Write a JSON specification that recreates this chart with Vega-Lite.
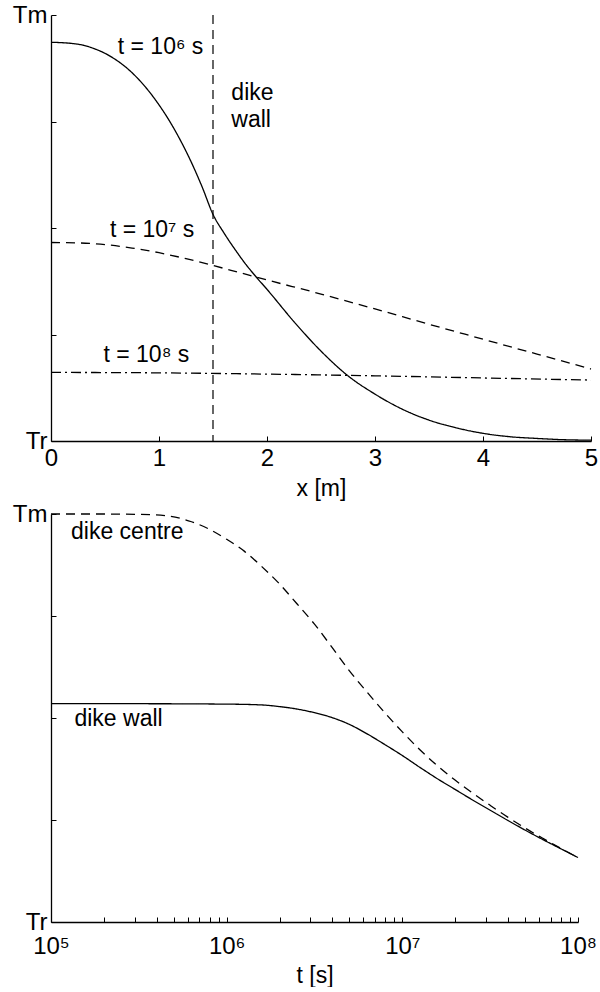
{
  "$schema": "https://vega.github.io/schema/vega-lite/v6.json",
  "background": "white",
  "padding": {"left": 12, "top": 3, "right": 0, "bottom": 0},
  "spacing": 2,
  "config": {
    "font": "Liberation Sans",
    "view": {"stroke": null},
    "axis": {
      "grid": false,
      "domainColor": "black",
      "domainWidth": 1.3,
      "tickColor": "black",
      "tickWidth": 1,
      "tickSize": -5,
      "labelFont": "Liberation Sans",
      "labelFontSize": 24,
      "labelColor": "black",
      "labelFlush": false,
      "labelOverlap": false,
      "titleFont": "Liberation Sans",
      "titleFontSize": 23,
      "titleFontWeight": "normal",
      "titleColor": "black"
    },
    "text": {"font": "Liberation Sans", "fontSize": 23, "color": "black"}
  },
  "datasets": {
    "profiles": [
      {"x": 0, "T": 0.936, "series": "1e6"},
      {"x": 0.1, "T": 0.935, "series": "1e6"},
      {"x": 0.2, "T": 0.933, "series": "1e6"},
      {"x": 0.3, "T": 0.929, "series": "1e6"},
      {"x": 0.4, "T": 0.921, "series": "1e6"},
      {"x": 0.5, "T": 0.91, "series": "1e6"},
      {"x": 0.6, "T": 0.895, "series": "1e6"},
      {"x": 0.7, "T": 0.876, "series": "1e6"},
      {"x": 0.8, "T": 0.852, "series": "1e6"},
      {"x": 0.9, "T": 0.823, "series": "1e6"},
      {"x": 1.0, "T": 0.789, "series": "1e6"},
      {"x": 1.1, "T": 0.75, "series": "1e6"},
      {"x": 1.2, "T": 0.705, "series": "1e6"},
      {"x": 1.3, "T": 0.654, "series": "1e6"},
      {"x": 1.4, "T": 0.596, "series": "1e6"},
      {"x": 1.5, "T": 0.532, "series": "1e6"},
      {"x": 1.6, "T": 0.489, "series": "1e6"},
      {"x": 1.7, "T": 0.451, "series": "1e6"},
      {"x": 1.8, "T": 0.416, "series": "1e6"},
      {"x": 1.9, "T": 0.385, "series": "1e6"},
      {"x": 2.0, "T": 0.356, "series": "1e6"},
      {"x": 2.25, "T": 0.28, "series": "1e6"},
      {"x": 2.5, "T": 0.211, "series": "1e6"},
      {"x": 2.75, "T": 0.153, "series": "1e6"},
      {"x": 3.0, "T": 0.11, "series": "1e6"},
      {"x": 3.25, "T": 0.075, "series": "1e6"},
      {"x": 3.5, "T": 0.049, "series": "1e6"},
      {"x": 3.75, "T": 0.031, "series": "1e6"},
      {"x": 4.0, "T": 0.018, "series": "1e6"},
      {"x": 4.25, "T": 0.01, "series": "1e6"},
      {"x": 4.5, "T": 0.006, "series": "1e6"},
      {"x": 4.75, "T": 0.003, "series": "1e6"},
      {"x": 5.0, "T": 0.002, "series": "1e6"},
      {"x": 0, "T": 0.466, "series": "1e7"},
      {"x": 0.25, "T": 0.465, "series": "1e7"},
      {"x": 0.5, "T": 0.461, "series": "1e7"},
      {"x": 0.75, "T": 0.453, "series": "1e7"},
      {"x": 1.0, "T": 0.442, "series": "1e7"},
      {"x": 1.25, "T": 0.428, "series": "1e7"},
      {"x": 1.5, "T": 0.412, "series": "1e7"},
      {"x": 1.75, "T": 0.395, "series": "1e7"},
      {"x": 2.0, "T": 0.378, "series": "1e7"},
      {"x": 2.5, "T": 0.345, "series": "1e7"},
      {"x": 3.0, "T": 0.31, "series": "1e7"},
      {"x": 3.5, "T": 0.274, "series": "1e7"},
      {"x": 4.0, "T": 0.239, "series": "1e7"},
      {"x": 4.5, "T": 0.204, "series": "1e7"},
      {"x": 5.0, "T": 0.169, "series": "1e7"},
      {"x": 0, "T": 0.161, "series": "1e8"},
      {"x": 1, "T": 0.16, "series": "1e8"},
      {"x": 2, "T": 0.157, "series": "1e8"},
      {"x": 3, "T": 0.153, "series": "1e8"},
      {"x": 4, "T": 0.148, "series": "1e8"},
      {"x": 5, "T": 0.143, "series": "1e8"}
    ],
    "history": [
      {"t": 100000, "T": 1.0, "series": "centre"},
      {"t": 177828, "T": 1.0, "series": "centre"},
      {"t": 316228, "T": 0.999, "series": "centre"},
      {"t": 446684, "T": 0.996, "series": "centre"},
      {"t": 630957, "T": 0.981, "series": "centre"},
      {"t": 794328, "T": 0.963, "series": "centre"},
      {"t": 1000000, "T": 0.938, "series": "centre"},
      {"t": 1258925, "T": 0.909, "series": "centre"},
      {"t": 1584893, "T": 0.871, "series": "centre"},
      {"t": 1995262, "T": 0.829, "series": "centre"},
      {"t": 2511886, "T": 0.78, "series": "centre"},
      {"t": 3162278, "T": 0.73, "series": "centre"},
      {"t": 3981072, "T": 0.673, "series": "centre"},
      {"t": 5011872, "T": 0.615, "series": "centre"},
      {"t": 6309573, "T": 0.563, "series": "centre"},
      {"t": 7943282, "T": 0.513, "series": "centre"},
      {"t": 10000000, "T": 0.466, "series": "centre"},
      {"t": 12589254, "T": 0.422, "series": "centre"},
      {"t": 15848932, "T": 0.383, "series": "centre"},
      {"t": 19952623, "T": 0.348, "series": "centre"},
      {"t": 25118864, "T": 0.316, "series": "centre"},
      {"t": 31622777, "T": 0.286, "series": "centre"},
      {"t": 39810717, "T": 0.257, "series": "centre"},
      {"t": 50118723, "T": 0.23, "series": "centre"},
      {"t": 63095734, "T": 0.205, "series": "centre"},
      {"t": 79432823, "T": 0.181, "series": "centre"},
      {"t": 100000000, "T": 0.158, "series": "centre"},
      {"t": 100000, "T": 0.535, "series": "wall"},
      {"t": 316228, "T": 0.535, "series": "wall"},
      {"t": 1000000, "T": 0.534, "series": "wall"},
      {"t": 1584893, "T": 0.532, "series": "wall"},
      {"t": 1995262, "T": 0.528, "series": "wall"},
      {"t": 2511886, "T": 0.522, "series": "wall"},
      {"t": 3162278, "T": 0.513, "series": "wall"},
      {"t": 3981072, "T": 0.501, "series": "wall"},
      {"t": 5011872, "T": 0.484, "series": "wall"},
      {"t": 6309573, "T": 0.461, "series": "wall"},
      {"t": 7943282, "T": 0.435, "series": "wall"},
      {"t": 10000000, "T": 0.408, "series": "wall"},
      {"t": 12589254, "T": 0.379, "series": "wall"},
      {"t": 15848932, "T": 0.351, "series": "wall"},
      {"t": 19952623, "T": 0.325, "series": "wall"},
      {"t": 25118864, "T": 0.299, "series": "wall"},
      {"t": 31622777, "T": 0.274, "series": "wall"},
      {"t": 39810717, "T": 0.249, "series": "wall"},
      {"t": 50118723, "T": 0.225, "series": "wall"},
      {"t": 63095734, "T": 0.202, "series": "wall"},
      {"t": 79432823, "T": 0.18, "series": "wall"},
      {"t": 100000000, "T": 0.158, "series": "wall"}
    ],
    "profileLabels": [
      {"x": 1.41, "T": 0.925, "text": "t = 10⁶ s", "side": "right"},
      {"x": 1.327, "T": 0.495, "text": "t = 10⁷ s", "side": "right"},
      {"x": 1.28, "T": 0.202, "text": "t = 10⁸ s", "side": "right"},
      {"x": 1.67, "T": 0.818, "text": "dike", "side": "left"},
      {"x": 1.67, "T": 0.753, "text": "wall", "side": "left"}
    ],
    "historyLabels": [
      {"t": 130000, "T": 0.956, "text": "dike centre"},
      {"t": 136000, "T": 0.497, "text": "dike wall"}
    ]
  },
  "vconcat": [
    {
      "width": 540,
      "height": 426,
      "layer": [
        {
          "data": {"values": [{"x": 1.5}]},
          "mark": {"type": "rule", "color": "black", "strokeWidth": 1.2, "strokeDash": [9, 6]},
          "encoding": {"x": {"field": "x", "type": "quantitative", "scale": {"domain": [0, 5], "nice": false}}}
        },
        {
          "data": {"name": "profiles"},
          "mark": {"type": "line", "color": "black", "strokeWidth": 1.3, "interpolate": "monotone"},
          "encoding": {
            "x": {
              "field": "x", "type": "quantitative",
              "scale": {"domain": [0, 5], "nice": false},
              "axis": {"values": [0, 1, 2, 3, 4, 5], "format": "d", "title": "x [m]", "labelPadding": 10, "titlePadding": 7}
            },
            "y": {
              "field": "T", "type": "quantitative",
              "scale": {"domain": [0, 1], "nice": false},
              "axis": {
                "values": [0, 0.25, 0.5, 0.75, 1],
                "labelExpr": "datum.value == 1 ? 'Tm' : datum.value == 0 ? 'Tr' : ''",
                "labelPadding": 9,
                "title": null
              }
            },
            "detail": {"field": "series", "type": "nominal"},
            "strokeDash": {
              "field": "series", "type": "nominal",
              "scale": {"domain": ["1e6", "1e7", "1e8"], "range": [[1, 0], [9, 6], [10, 4, 2, 4]]},
              "legend": null
            }
          }
        },
        {
          "data": {"name": "profileLabels"},
          "transform": [{"filter": "datum.side == 'right'"}],
          "mark": {"type": "text", "align": "right"},
          "encoding": {
            "x": {"field": "x", "type": "quantitative"},
            "y": {"field": "T", "type": "quantitative"},
            "text": {"field": "text"}
          }
        },
        {
          "data": {"name": "profileLabels"},
          "transform": [{"filter": "datum.side == 'left'"}],
          "mark": {"type": "text", "align": "left"},
          "encoding": {
            "x": {"field": "x", "type": "quantitative"},
            "y": {"field": "T", "type": "quantitative"},
            "text": {"field": "text"}
          }
        }
      ]
    },
    {
      "width": 527,
      "height": 408,
      "layer": [
        {
          "data": {"name": "history"},
          "mark": {"type": "line", "color": "black", "strokeWidth": 1.3, "interpolate": "monotone"},
          "encoding": {
            "x": {
              "field": "t", "type": "quantitative",
              "scale": {"type": "log", "domain": [100000, 100000000], "nice": false},
              "axis": {
                "values": [100000, 200000, 300000, 400000, 500000, 600000, 700000, 800000, 900000,
                           1000000, 2000000, 3000000, 4000000, 5000000, 6000000, 7000000, 8000000, 9000000,
                           10000000, 20000000, 30000000, 40000000, 50000000, 60000000, 70000000, 80000000, 90000000,
                           100000000],
                "labelExpr": "datum.value == 100000 ? '10⁵' : datum.value == 1000000 ? '10⁶' : datum.value == 10000000 ? '10⁷' : datum.value == 100000000 ? '10⁸' : ''",
                "title": "t [s]",
                "labelPadding": 17,
                "titlePadding": 6
              }
            },
            "y": {
              "field": "T", "type": "quantitative",
              "scale": {"domain": [0, 1], "nice": false},
              "axis": {
                "values": [0, 0.25, 0.5, 0.75, 1],
                "labelExpr": "datum.value == 1 ? 'Tm' : datum.value == 0 ? 'Tr' : ''",
                "labelPadding": 9,
                "title": null
              }
            },
            "detail": {"field": "series", "type": "nominal"},
            "strokeDash": {
              "field": "series", "type": "nominal",
              "scale": {"domain": ["wall", "centre"], "range": [[1, 0], [9, 6]]},
              "legend": null
            }
          }
        },
        {
          "data": {"name": "historyLabels"},
          "mark": {"type": "text", "align": "left"},
          "encoding": {
            "x": {"field": "t", "type": "quantitative", "scale": {"type": "log"}},
            "y": {"field": "T", "type": "quantitative"},
            "text": {"field": "text"}
          }
        }
      ]
    }
  ]
}
